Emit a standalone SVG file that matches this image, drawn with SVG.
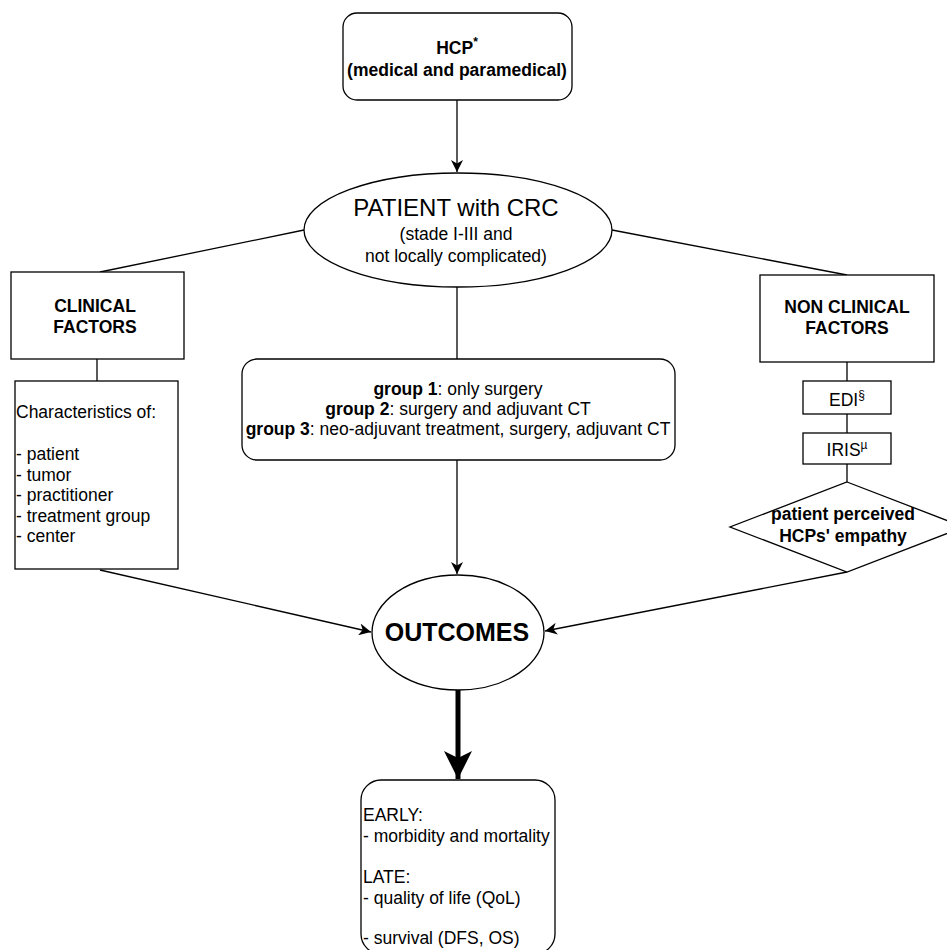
<svg xmlns="http://www.w3.org/2000/svg" width="947" height="950" viewBox="0 0 947 950">
<style>
.s{fill:#fff;stroke:#000;stroke-width:1.3}
.t{font-family:"Liberation Sans",Arial,sans-serif;font-size:17.5px;fill:#000}
.b{font-weight:bold}
.c{text-anchor:middle}
.l{fill:none;stroke:#000;stroke-width:1.3}
.sup{font-size:12px}
</style>
<defs>
<marker id="a" markerUnits="userSpaceOnUse" markerWidth="14" markerHeight="12" refX="12" refY="6" orient="auto">
<path d="M0,0 L12,6 L0,12 L3.5,6 Z" fill="#000"/>
</marker>
<marker id="big" markerUnits="userSpaceOnUse" markerWidth="30" markerHeight="30" refX="28" refY="14" orient="auto">
<path d="M0,0 L28,14 L0,28 L7,14 Z" fill="#000"/>
</marker>
</defs>
<g id="connectors">
<line class="l" x1="457" y1="100" x2="457" y2="172" marker-end="url(#a)"/>
<line class="l" x1="304" y1="230" x2="100" y2="272"/>
<line class="l" x1="612" y1="230" x2="847" y2="275"/>
<line class="l" x1="457" y1="287" x2="457" y2="359"/>
<line class="l" x1="97" y1="359" x2="97" y2="381"/>
<line class="l" x1="457" y1="460" x2="457" y2="574" marker-end="url(#a)"/>
<line class="l" x1="100" y1="570" x2="371" y2="632" marker-end="url(#a)"/>
<line class="l" x1="847" y1="572" x2="545" y2="631" marker-end="url(#a)"/>
<line class="l" x1="847" y1="362" x2="847" y2="381"/>
<line class="l" x1="847" y1="414" x2="847" y2="433"/>
<line class="l" x1="847" y1="464" x2="847" y2="482"/>
<line x1="458" y1="690" x2="458" y2="779" stroke="#000" stroke-width="5" marker-end="url(#big)"/>
</g>
<g id="hcp">
<rect class="s" x="343" y="13" width="229" height="87" rx="14"/>
<text class="t b c" x="457" y="54">HCP<tspan class="sup" dy="-8">*</tspan></text>
<text class="t b c" x="457" y="76">(medical and paramedical)</text>
</g>
<g id="patient">
<ellipse class="s" cx="458" cy="230" rx="154" ry="57"/>
<text class="t c" x="456" y="216" style="font-size:24px">PATIENT with CRC</text>
<text class="t c" x="456" y="240">(stade I-III and</text>
<text class="t c" x="456" y="262">not locally complicated)</text>
</g>
<g id="clinical">
<rect class="s" x="11" y="272" width="173" height="87"/>
<text class="t b c" x="95" y="312">CLINICAL</text>
<text class="t b c" x="95" y="333">FACTORS</text>
</g>
<g id="characteristics">
<rect class="s" x="15" y="381" width="163" height="188"/>
<text class="t" x="16" y="418">Characteristics of:</text>
<text class="t" x="16" y="460">- patient</text>
<text class="t" x="16" y="480.5">- tumor</text>
<text class="t" x="16" y="501">- practitioner</text>
<text class="t" x="16" y="521.5">- treatment group</text>
<text class="t" x="16" y="542">- center</text>
</g>
<g id="groups">
<rect class="s" x="242" y="359" width="433" height="101" rx="15"/>
<text class="t c" x="458" y="395"><tspan class="b">group 1</tspan>: only surgery</text>
<text class="t c" x="458" y="415"><tspan class="b">group 2</tspan>: surgery and adjuvant CT</text>
<text class="t c" x="458" y="435"><tspan class="b">group 3</tspan>: neo-adjuvant treatment, surgery, adjuvant CT</text>
</g>
<g id="nonclinical">
<rect class="s" x="760" y="275" width="174" height="87"/>
<text class="t b c" x="847" y="313">NON CLINICAL</text>
<text class="t b c" x="847" y="334">FACTORS</text>
</g>
<g id="edi">
<rect class="s" x="803" y="381" width="88" height="33"/>
<text class="t c" x="847" y="406">EDI<tspan class="sup" dy="-7">§</tspan></text>
</g>
<g id="iris">
<rect class="s" x="803" y="433" width="88" height="31"/>
<text class="t c" x="847" y="456">IRIS<tspan class="sup" dy="-7">µ</tspan></text>
</g>
<g id="empathy">
<polygon class="s" points="847,482 964,527 847,572 730,527"/>
<text class="t b c" x="843" y="520">patient perceived</text>
<text class="t b c" x="843" y="542">HCPs' empathy</text>
</g>
<g id="outcomes">
<ellipse class="s" cx="458" cy="632.5" rx="86" ry="57.5"/>
<text class="t b c" x="457" y="641" style="font-size:25px">OUTCOMES</text>
</g>
<g id="results">
<rect class="s" x="361" y="780" width="194" height="174" rx="20"/>
<text class="t" x="363" y="821">EARLY:</text>
<text class="t" x="363" y="841.5">- morbidity and mortality</text>
<text class="t" x="363" y="883">LATE:</text>
<text class="t" x="363" y="904">- quality of life (QoL)</text>
<text class="t" x="363" y="944">- survival (DFS, OS)</text>
</g>
</svg>
